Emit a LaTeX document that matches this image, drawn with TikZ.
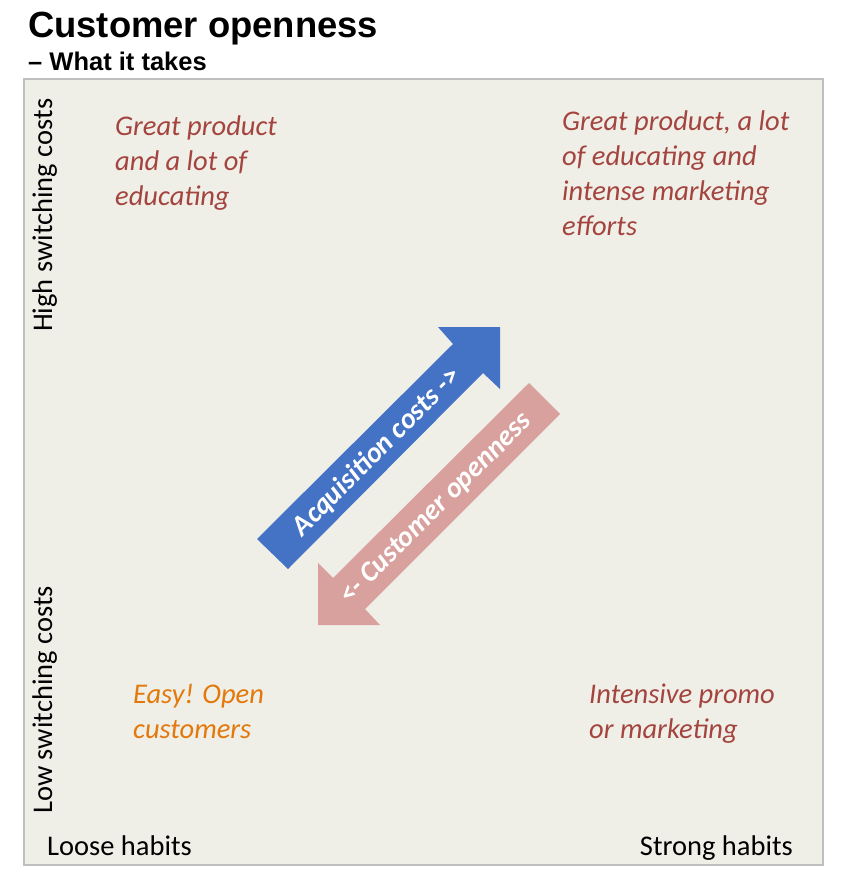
\documentclass[tikz,border=0pt]{standalone}
\usepackage{fontspec}
\setmainfont{Carlito}
\newfontfamily\titlefont{Liberation Sans}
\definecolor{panelbg}{HTML}{F0EFE7}
\definecolor{panelrule}{HTML}{BFBFBF}
\definecolor{quadred}{HTML}{A3443F}
\definecolor{quadorange}{HTML}{E3780B}
\definecolor{arrowblue}{HTML}{4472C4}
\definecolor{arrowpink}{HTML}{D9A19E}
\tikzset{
  % multi-line captions are placed by the baseline of their last line
  quadtext/.style={anchor=base west, inner sep=0pt, align=left,
    font=\fontsize{28.5}{35}\selectfont\itshape, text=quadred},
  axistext/.style={inner sep=0pt, font=\fontsize{28.5}{35}\selectfont, text=black},
  arrowtext/.style={inner sep=0pt, rotate=45, text=white,
    font=\fontsize{28.5}{35}\selectfont\bfseries\itshape}
}
\begin{document}
\begin{tikzpicture}[x=1pt,y=-1pt]
\useasboundingbox (0,0) rectangle (840,890);
\fill[white] (0,0) rectangle (840,890);

% heading
\node[anchor=base west, inner sep=0pt, font=\titlefont\bfseries\fontsize{36.4}{40}\selectfont] (title) at (28,38) {Customer openness};
\node[anchor=base west, inner sep=0pt, font=\titlefont\bfseries\fontsize{25.5}{28}\selectfont] (subtitle) at (28,71) {– What it takes};

% panel
\draw[panelrule, line width=2pt, fill=panelbg] (24,79) rectangle (823,865);

% axis labels
\node[axistext, anchor=base west] (loose) at (47,855) {Loose habits};
\node[axistext, anchor=base east] (strong) at (793,855) {Strong habits};
\node[axistext, rotate=90, anchor=base west] (high) at (52,332) {High switching costs};
\node[axistext, rotate=90, anchor=base west] (low) at (52,814) {Low switching costs};

% quadrant captions
\node[quadtext] (tl) at (115,206) {Great product\\and a lot of\\educating};
\node[quadtext] (tr) at (562,236) {Great product, a lot\\of educating and\\intense marketing\\efforts};
\node[quadtext, text=quadorange] (bl) at (133,738) {Easy! Open\\customers};
\node[quadtext] (br) at (589,738) {Intensive promo\\or marketing};

% acquisition costs arrow (up-right)
\fill[arrowblue] (257,539) -- (453,344) -- (438,327) -- (500,327) -- (500,389) -- (483,373) -- (288,569) -- cycle;
% customer openness arrow (down-left)
\fill[arrowpink] (318,625) -- (318,563) -- (333,578) -- (529,383) -- (560,414) -- (365,609) -- (380,625) -- cycle;

\node[arrowtext] (acq) at (377,452) {Acquisition costs ->};
\node[arrowtext] (open) at (436,509) {<- Customer openness};
\end{tikzpicture}
\end{document}
